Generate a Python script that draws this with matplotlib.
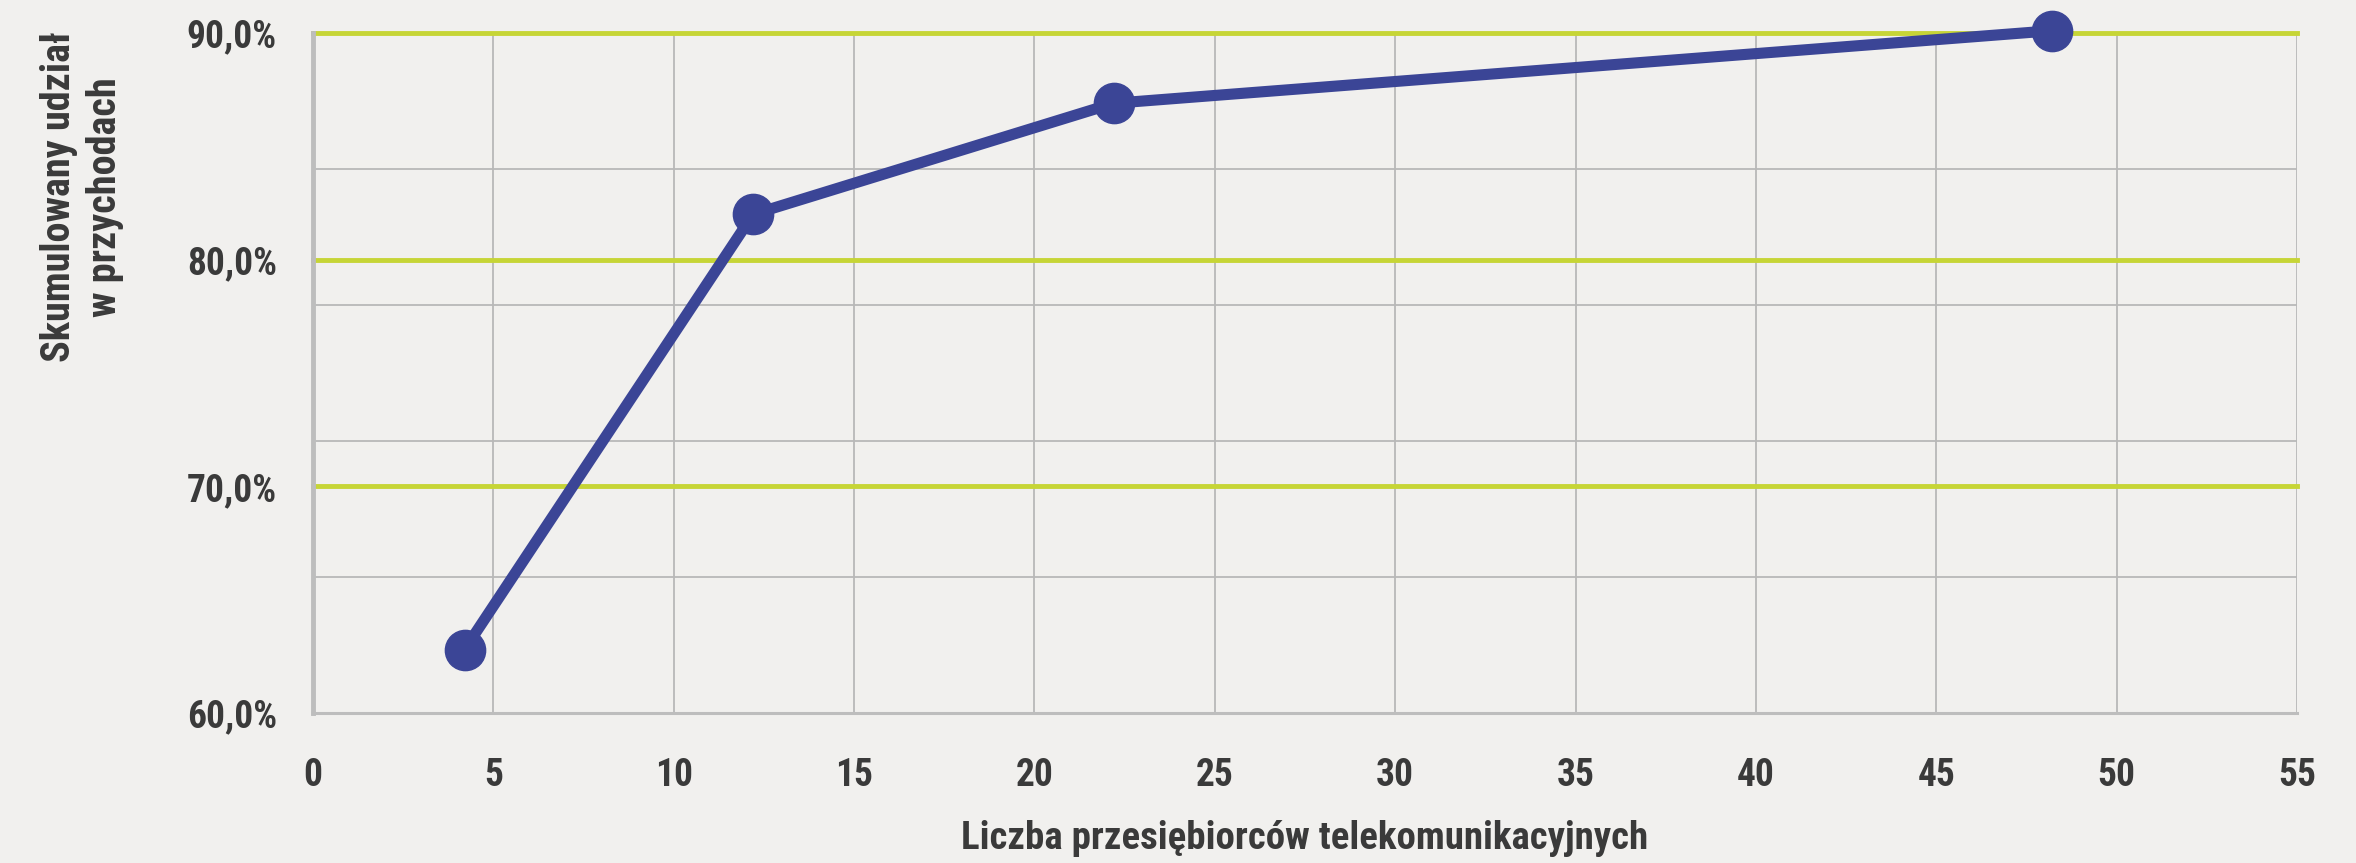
import matplotlib
matplotlib.use("Agg")
import matplotlib.pyplot as plt
from matplotlib.ticker import FixedLocator, FuncFormatter

# ---- data ----
n_companies = [4.2, 12.2, 22.2, 48.2]
cum_share = [62.8, 82.0, 86.9, 90.1]
x_ticks = [0, 5, 10, 15, 20, 25, 30, 35, 40, 45, 50, 55]
y_tick_values = [60, 70, 80, 90]
y_minor_grid = [66, 72, 78, 84]
x_label = "Liczba przesiębiorców telekomunikacyjnych"
y_label = "Skumulowany udział\nw przychodach"

FONT = ['Roboto Condensed', 'Liberation Sans Narrow', 'Roboto', 'DejaVu Sans']
plt.rcParams['font.family'] = FONT

W, H = 2356, 863
fig = plt.figure(figsize=(W / 100, H / 100), dpi=100)
bg = '#f1f0ee'
fig.patch.set_facecolor(bg)

left, right, top, bottom = 313 / W, 2297 / W, 1 - 33 / H, 1 - 713 / H
ax = fig.add_axes([left, bottom, right - left, top - bottom])
ax.set_facecolor(bg)
ax.set_xlim(0, 55)
ax.set_ylim(60, 90)

grid_gray = '#b8b8b8'
green = '#c6d536'
blue = '#3b4596'
text_col = '#3a3a3a'

# vertical grid
for xv in x_ticks[1:]:
    ax.axvline(xv, color=grid_gray, lw=1.3, zorder=1)
# gray horizontal grid
for yv in y_minor_grid:
    ax.axhline(yv, color=grid_gray, lw=1.3, zorder=1)
# green major lines
for yv in y_tick_values[1:]:
    ax.axhline(yv, color=green, lw=3.5, zorder=2, clip_on=False)

for s in ['top', 'right']:
    ax.spines[s].set_visible(False)
ax.spines['left'].set_color('#bdbdbd')
ax.spines['left'].set_linewidth(3.5)
ax.spines['bottom'].set_color('#bdbdbd')
ax.spines['bottom'].set_linewidth(2.2)

ax.plot(n_companies, cum_share, color=blue, lw=8, marker='o', ms=29,
        markerfacecolor=blue, markeredgecolor=blue, zorder=5, clip_on=False,
        solid_capstyle='round')

ax.xaxis.set_major_locator(FixedLocator(x_ticks))
ax.yaxis.set_major_locator(FixedLocator(y_tick_values))
ax.yaxis.set_major_formatter(FuncFormatter(lambda v, p: f"{v:.1f}%".replace('.', ',')))
ax.tick_params(axis='both', length=0, colors=text_col, labelsize=27)
ax.tick_params(axis='x', pad=32)
ax.tick_params(axis='y', pad=26)
for lab in ax.get_xticklabels() + ax.get_yticklabels():
    lab.set_fontweight('bold')
    lab.set_color(text_col)
    if lab in ax.get_yticklabels():
        pass

fig.text((313 + 2297) / 2 / W, 1 - 838 / H, x_label, ha='center', va='center',
         fontsize=28, fontweight='bold', color=text_col)
fig.text(82 / W, 1 - 197 / H, y_label, ha='center', va='center', rotation=90,
         fontsize=29, fontweight='bold', color=text_col, linespacing=1.3,
         multialignment='center')

fig.savefig('out.png', dpi=100, facecolor=bg)
